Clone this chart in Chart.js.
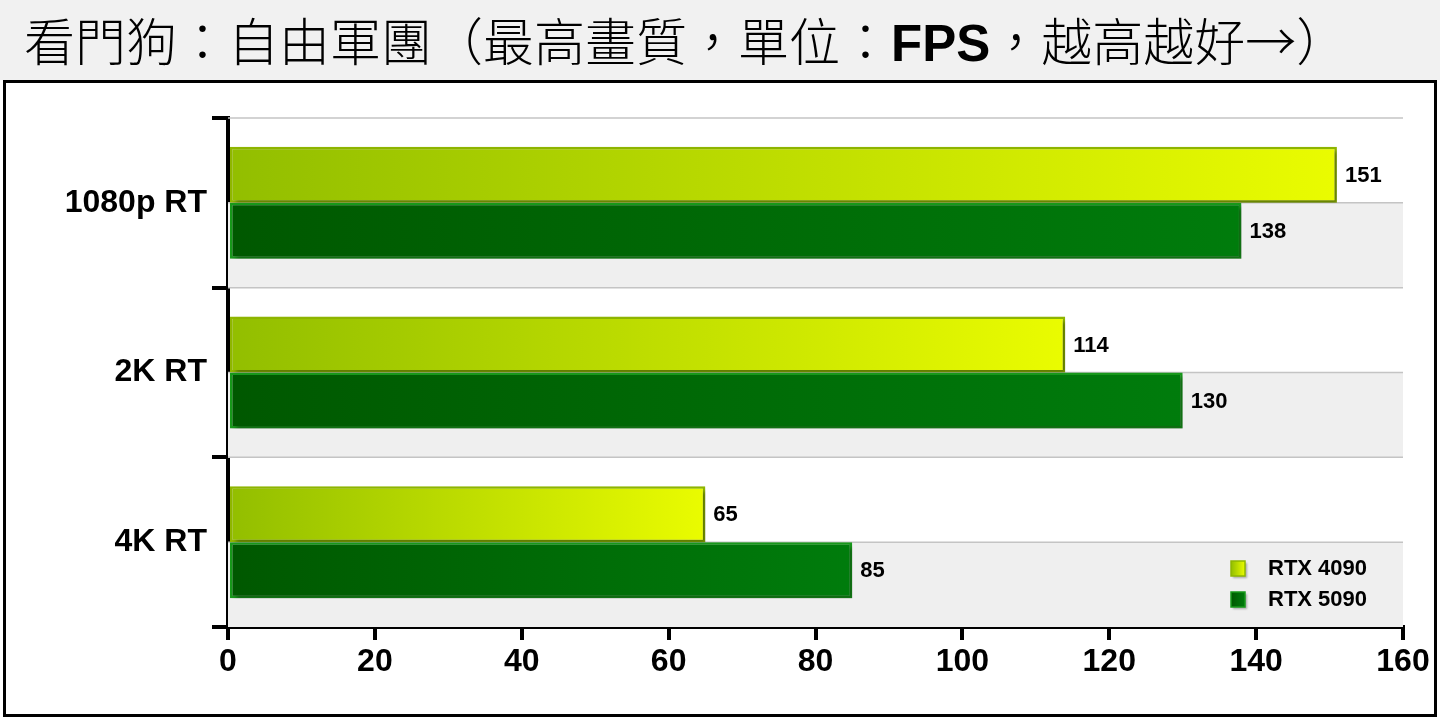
<!DOCTYPE html>
<html>
<head>
<meta charset="utf-8">
<script src="https://cdn.jsdelivr.net/npm/chart.js@4/dist/chart.umd.min.js"></script>
<style>
  html, body { margin: 0; padding: 0; background: #fff; width: 1440px; height: 720px; overflow: hidden; }
  #title {
    position: absolute; left: 0; top: 0; width: 1440px; height: 80px;
    background: #f1f1f1;
    font-family: "Noto Sans CJK TC", "Noto Sans CJK SC", sans-serif;
    font-weight: 300; font-size: 51px; line-height: 78px;
    color: #000; padding-left: 24px; box-sizing: border-box; white-space: nowrap;
  }
  #title b { font-family: "Liberation Sans", Arial, sans-serif; font-weight: 700; }
  #box {
    position: absolute; left: 3px; top: 80px; width: 1434px; height: 637px;
    border: 3px solid #000; box-sizing: border-box; background: #fff;
  }
  #chart { display: block; }
</style>
</head>
<body>
<div id="title">看門狗：自由軍團（最高畫質，單位：<b>FPS</b>，越高越好→）</div>
<div id="box"><canvas id="chart" width="1428" height="631"></canvas></div>
<script>
const categories = ['1080p RT', '2K RT', '4K RT'];
const seriesNames = ['RTX 4090', 'RTX 5090'];
const rtx4090 = [151, 114, 65];
const rtx5090 = [138, 130, 85];
const xTicks = [0, 20, 40, 60, 80, 100, 120, 140, 160];

const FONT = '"Liberation Sans", Arial, sans-serif';
const fills = [['#92be00', '#eafc00'], ['#005800', '#007c0c']];
const borders = ['#8fb600', '#17991a'];

function barFill(stops) {
    return function (c) {
        const chart = c.chart;
        if (!chart.chartArea || c.raw == null) return stops[1];
        const x0 = chart.scales.x.getPixelForValue(0);
        const x1 = chart.scales.x.getPixelForValue(c.raw);
        const g = chart.ctx.createLinearGradient(x0, 0, x1, 0);
        g.addColorStop(0, stops[0]);
        g.addColorStop(1, stops[1]);
        return g;
    };
}

// alternating bands + light grid lines behind the bars
const bandPlugin = {
    id: 'bands',
    beforeDatasetsDraw(chart) {
        const { ctx, chartArea: a, scales: { y } } = chart;
        const band = (a.bottom - a.top) / categories.length;
        ctx.save();
        categories.forEach((_, i) => {
            const mid = y.getPixelForValue(i);
            ctx.fillStyle = '#efefef';
            ctx.fillRect(a.left, mid, a.right - a.left, band / 2);
            ctx.strokeStyle = '#c4c4c4';
            ctx.lineWidth = 1.5;
            [mid - band / 2, mid].forEach(yy => {
                ctx.beginPath();
                ctx.moveTo(a.left, yy);
                ctx.lineTo(a.right, yy);
                ctx.stroke();
            });
        });
        ctx.restore();
        // drop shadow for the bars
        ctx.save();
        ctx.shadowColor = 'rgba(0,0,0,0.35)';
        ctx.shadowOffsetX = 3;
        ctx.shadowOffsetY = 3;
        ctx.shadowBlur = 4;
    },
    afterDatasetsDraw(chart) {
        chart.ctx.restore();
    }
};

// value labels and legend
const labelPlugin = {
    id: 'labels',
    afterDraw(chart) {
        const { ctx, chartArea: a } = chart;
        ctx.save();
        ctx.fillStyle = '#000';
        ctx.font = 'bold 22px ' + FONT;
        ctx.textBaseline = 'middle';
        chart.data.datasets.forEach((ds, di) => {
            chart.getDatasetMeta(di).data.forEach((el, i) => {
                ctx.fillText(String(ds.data[i]), el.x + 8, el.y + 1);
            });
        });
        // legend, bottom right inside plot
        ctx.font = 'bold 22px ' + FONT;
        seriesNames.forEach((name, i) => {
            const lx = a.right - 172, ly = a.bottom - 59 + i * 31;
            const g = ctx.createLinearGradient(lx, 0, lx + 14, 0);
            g.addColorStop(0, fills[i][0]);
            g.addColorStop(1, fills[i][1]);
            ctx.save();
            ctx.shadowColor = 'rgba(0,0,0,0.3)';
            ctx.shadowOffsetX = 2;
            ctx.shadowOffsetY = 2;
            ctx.shadowBlur = 2;
            ctx.fillStyle = g;
            ctx.fillRect(lx, ly - 7, 14, 15);
            ctx.restore();
            ctx.strokeStyle = borders[i];
            ctx.lineWidth = 1.5;
            ctx.strokeRect(lx, ly - 7, 14, 15);
            ctx.fillStyle = '#000';
            ctx.fillText(name, lx + 37, ly + 1);
        });
        ctx.restore();
    }
};

new Chart(document.getElementById('chart'), {
    type: 'bar',
    data: {
        labels: categories,
        datasets: [
            { label: seriesNames[0], data: rtx4090, backgroundColor: barFill(fills[0]), borderColor: borders[0], borderWidth: 2.5, borderSkipped: false },
            { label: seriesNames[1], data: rtx5090, backgroundColor: barFill(fills[1]), borderColor: borders[1], borderWidth: 2.5, borderSkipped: false }
        ]
    },
    options: {
        indexAxis: 'y',
        responsive: false,
        animation: false,
        devicePixelRatio: 1,
        layout: { padding: { top: 35, right: 31, left: 0, bottom: 0 } },
        datasets: { bar: { categoryPercentage: 0.66, barPercentage: 1.0 } },
        scales: {
            x: {
                min: 0, max: 160,
                afterBuildTicks: s => { s.ticks = xTicks.map(v => ({ value: v })); },
                afterFit: s => { s.height = 87; },
                border: { display: true, color: '#000', width: 4 },
                grid: { drawOnChartArea: false, color: '#000', lineWidth: 4, tickLength: 13 },
                ticks: { color: '#000', font: { family: FONT, size: 32, weight: 'bold' }, padding: 3 }
            },
            y: {
                afterFit: s => { s.width = 222; },
                border: { display: true, color: '#000', width: 4 },
                grid: { drawOnChartArea: false, color: '#000', lineWidth: 4, tickLength: 16, offset: true },
                ticks: { color: '#000', font: { family: FONT, size: 32, weight: 'bold' }, padding: 5 }
            }
        },
        plugins: {
            legend: { display: false },
            tooltip: { enabled: false }
        }
    },
    plugins: [bandPlugin, labelPlugin]
});
</script>
</body>
</html>
